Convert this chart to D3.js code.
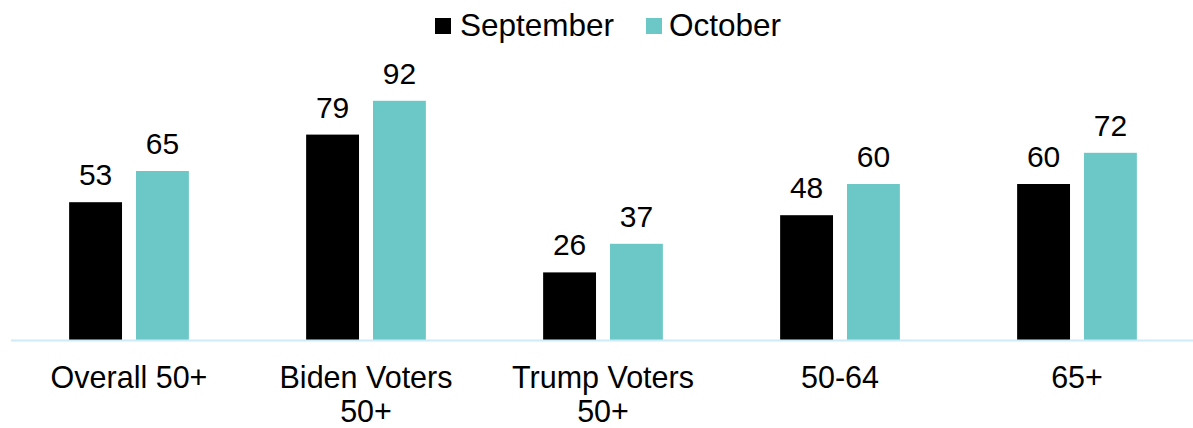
<!DOCTYPE html>
<html>
<head>
<meta charset="utf-8">
<script src="https://cdn.jsdelivr.net/npm/d3@7"></script>
<style>
  html, body { margin: 0; padding: 0; background: #ffffff; }
  svg { display: block; font-family: "Liberation Sans", Arial, sans-serif; }
</style>
</head>
<body>
<svg id="chart" width="1193" height="428"></svg>
<script>
const categories = ["Overall 50+", "Biden Voters\n50+", "Trump Voters\n50+", "50-64", "65+"];
const seriesNames = ["September", "October"];
const september = [53, 79, 26, 48, 60];
const october = [65, 92, 37, 60, 72];
const colors = ["#000000", "#6BC8C6"];

const values = [september, october];
const data = categories.map((c, i) => ({ cat: c, vals: seriesNames.map((s, j) => ({ s, v: values[j][i], j })) }));

const svg = d3.select("#chart");
const left = 10.5, right = 1195.5, baseY = 340, topY = 80;

const x0 = d3.scaleBand().domain(categories).range([left, right]).paddingInner(0).paddingOuter(0);
const x1 = d3.scaleBand().domain(seriesNames).range([0, x0.bandwidth()]).paddingInner(0.209).paddingOuter(0.877);
const y = d3.scaleLinear().domain([0, 100]).range([baseY, topY]);

const color = d3.scaleOrdinal().domain(seriesNames).range(colors);

// bars
const g = svg.append("g");
const groups = g.selectAll("g.cat").data(data).enter().append("g")
  .attr("class", "cat")
  .attr("transform", d => `translate(${x0(d.cat)},0)`);

groups.selectAll("rect").data(d => d.vals).enter().append("rect")
  .attr("x", d => x1(d.s))
  .attr("y", d => y(d.v))
  .attr("width", x1.bandwidth())
  .attr("height", d => y(0) - y(d.v))
  .attr("fill", d => color(d.s));

groups.selectAll("text.val").data(d => d.vals).enter().append("text")
  .attr("class", "val")
  .attr("x", d => x1(d.s) + x1.bandwidth() / 2)
  .attr("y", d => y(d.v) - 17)
  .attr("text-anchor", "middle")
  .attr("font-size", 30)
  .attr("fill", "#000")
  .text(d => d.v);

// x axis
const xAxis = d3.axisBottom(x0).tickSize(0).tickSizeOuter(0).tickPadding(0);
const ax = svg.append("g").attr("transform", `translate(0,${baseY})`).call(xAxis);
ax.select(".domain").attr("stroke", "#D0EBF8").attr("stroke-width", 2);
ax.selectAll(".tick text").each(function(d) {
  const t = d3.select(this);
  t.text(null).attr("y", 0).attr("dy", null)
    .attr("font-size", 30.5).attr("fill", "#000")
    .attr("font-family", "'Liberation Sans', Arial, sans-serif");
  d.split("\n").forEach((line, i) => {
    t.append("tspan").attr("x", 0).attr("y", 48 + i * 34).text(line);
  });
});

// legend
const legend = svg.append("g");
const legendItems = [
  { name: seriesNames[0], sx: 435, tx: 460 },
  { name: seriesNames[1], sx: 646, tx: 669 }
];
legendItems.forEach(it => {
  legend.append("rect").attr("x", it.sx).attr("y", 18).attr("width", 16).attr("height", 16).attr("fill", color(it.name));
  legend.append("text").attr("x", it.tx).attr("y", 36).attr("font-size", 31.5).attr("fill", "#000").text(it.name);
});
</script>
</body>
</html>
